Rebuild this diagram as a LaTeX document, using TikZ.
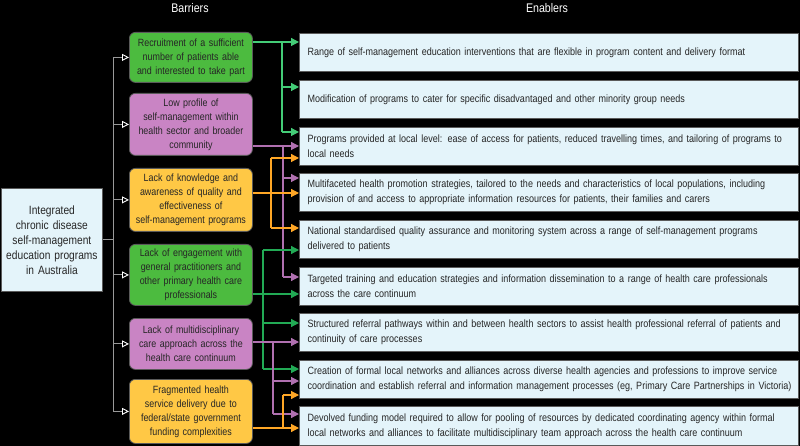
\documentclass[tikz,border=0pt]{standalone}
\usepackage{fontspec}
\setmainfont{Liberation Sans}[FakeStretch=0.85]
\usetikzlibrary{arrows.meta}
\definecolor{bgreen}{HTML}{4CBB3F}
\definecolor{bpurple}{HTML}{C984C4}
\definecolor{borange}{HTML}{FFC845}
\definecolor{lblue}{HTML}{E4F4FA}
\definecolor{lgreenA}{HTML}{44CC77}
\definecolor{lgreenB}{HTML}{22AA55}
\definecolor{lpurple}{HTML}{B070B0}
\definecolor{lorange}{HTML}{FFA726}
\definecolor{bordergray}{HTML}{5A5A5A}
\tikzset{
  barrier/.style={draw=bordergray, line width=0.8pt, rounded corners=6pt, anchor=north west,
    minimum width=123pt, text width=115pt, align=center, inner sep=0pt,
    font=\fontsize{10.5}{14}\selectfont, text=black!85},
  enabler/.style={draw=bordergray, line width=1pt, fill=lblue, anchor=north west,
    minimum width=499pt, minimum height=38pt, text width=483pt, align=left, inner sep=0pt,
    font=\fontsize{10.6}{15}\selectfont, text=black!85},
  srcbox/.style={draw=bordergray, line width=0.8pt, fill=lblue, anchor=north west,
    minimum width=101pt, minimum height=103pt, text width=95pt, align=center, inner sep=0pt,
    font=\fontsize{12}{15}\selectfont, text=black!85},
  header/.style={text=white, font=\fontsize{12.5}{14}\selectfont},
  trunk/.style={draw=gray!80, line width=0.9pt},
  openarr/.style={trunk, -{Triangle[open, length=7pt, width=7pt, color=white]}},
  link/.style={line width=1.2pt},
  arr/.style={link, -{Triangle[length=8pt, width=8pt]}},
}
\hbadness=10000 \hfuzz=20pt
\begin{document}
\begin{tikzpicture}[x=1pt,y=-1pt]
\fill[black] (0,0) rectangle (800,446);
\useasboundingbox (0,0) rectangle (800,446);

\node[header] (hb) at (190,8) {Barriers};
\node[header] (he) at (547,8) {Enablers};

\node[srcbox] (src) at (1,188) {Integrated\\chronic disease\\self-management\\education programs\\in Australia};

\node[barrier, fill=bgreen, minimum height=50pt] (b1) at (129,32) {Recruitment of a sufficient\\number of patients able\\and interested to take part};
\node[barrier, fill=bpurple, minimum height=62pt] (b2) at (129,93) {Low profile of\\self-management within\\health sector and broader\\community};
\node[barrier, fill=borange, minimum height=63pt] (b3) at (129,168) {Lack of knowledge and\\awareness of quality and\\effectiveness of\\self-management programs};
\node[barrier, fill=bgreen, minimum height=61pt] (b4) at (129,244) {Lack of engagement with\\general practitioners and\\other primary health care\\professionals};
\node[barrier, fill=bpurple, minimum height=51pt] (b5) at (129,318) {Lack of multidisciplinary\\care approach across the\\health care continuum};
\node[barrier, fill=borange, minimum height=64pt] (b6) at (129,379) {Fragmented health\\service delivery due to\\federal/state government\\funding complexities};

\node[enabler] (e1) at (299,33) {Range of self-management education interventions that are flexible in program content and delivery format};
\node[enabler] (e2) at (299,80) {Modification of programs to cater for specific disadvantaged and other minority group needs};
\node[enabler] (e3) at (299,127) {\mbox{Programs provided at local level: ease of access for patients, reduced travelling times, and tailoring of programs to}\\local needs};
\node[enabler] (e4) at (299,173) {\mbox{Multifaceted health promotion strategies, tailored to the needs and characteristics of local populations, including}\\\mbox{provision of and access to appropriate information resources for patients, their families and carers}};
\node[enabler] (e5) at (299,220) {\mbox{National standardised quality assurance and monitoring system across a range of self-management programs}\\delivered to patients};
\node[enabler] (e6) at (299,267) {\mbox{Targeted training and education strategies and information dissemination to a range of health care professionals}\\across the care continuum};
\node[enabler] (e7) at (299,313) {\mbox{Structured referral pathways within and between health sectors to assist health professional referral of patients and}\\continuity of care processes};
\node[enabler] (e8) at (299,360) {\mbox{Creation of formal local networks and alliances across diverse health agencies and professions to improve service}\\\mbox{coordination and establish referral and information management processes (eg, Primary Care Partnerships in Victoria)}};
\node[enabler, minimum height=39pt] (e9) at (299,406) {\mbox{Devolved funding model required to allow for pooling of resources by dedicated coordinating agency within formal}\\\mbox{local networks and alliances to facilitate multidisciplinary team approach across the health care continuum}};

% trunk
\coordinate (t) at (113,0);
\draw[trunk] (src.east) -- (t |- src.east);
\draw[trunk] (t |- b1.west) -- (t |- b6.west);
\foreach \b in {b1,b2,b3,b4,b5,b6}{
  \draw[openarr] (t |- \b.west) -- (\b.west);
}

% green group 1
\begin{scope}[lgreenA]
\draw[link] (b1.east |- 0,42) -- (282,42) -- (282,132);
\draw[arr] (282,42) -- (e1.west |- 0,42);
\draw[arr] (282,87) -- (e2.west |- 0,87);
\draw[arr] (282,132) -- (e3.west |- 0,132);
\end{scope}
% purple group 1
\begin{scope}[lpurple]
\draw[link] (b2.east |- 0,146) -- (283,146) -- (283,277);
\draw[arr] (283,146) -- (e3.west |- 0,146);
\draw[arr] (283,178) -- (e4.west |- 0,178);
\draw[arr] (283,277) -- (e6.west |- 0,277);
\end{scope}
% orange group 1
\begin{scope}[lorange]
\draw[link] (b3.east |- 0,193) -- (271,193);
\draw[link] (271,158) -- (271,228);
\draw[arr] (271,158) -- (e3.west |- 0,158);
\draw[arr] (271,193) -- (e4.west |- 0,193);
\draw[arr] (271,228) -- (e5.west |- 0,228);
\end{scope}
% green group 2
\begin{scope}[lgreenB]
\draw[link] (b4.east |- 0,294) -- (263,294);
\draw[link] (263,250) -- (263,369);
\draw[arr] (263,250) -- (e5.west |- 0,250);
\draw[arr] (263,294) -- (e6.west |- 0,294);
\draw[arr] (263,323) -- (e7.west |- 0,323);
\draw[arr] (263,369) -- (e8.west |- 0,369);
\end{scope}
% purple group 2
\begin{scope}[lpurple]
\draw[link] (b5.east |- 0,342) -- (273,342) -- (273,414);
\draw[arr] (273,342) -- (e7.west |- 0,342);
\draw[arr] (273,381) -- (e8.west |- 0,381);
\draw[arr] (273,414) -- (e9.west |- 0,414);
\end{scope}
% orange group 2
\begin{scope}[lorange]
\draw[link] (b6.east |- 0,428) -- (283,428);
\draw[link] (283,395) -- (283,428);
\draw[arr] (283,395) -- (e8.west |- 0,395);
\draw[arr] (283,428) -- (e9.west |- 0,428);
\end{scope}
\end{tikzpicture}
\end{document}
